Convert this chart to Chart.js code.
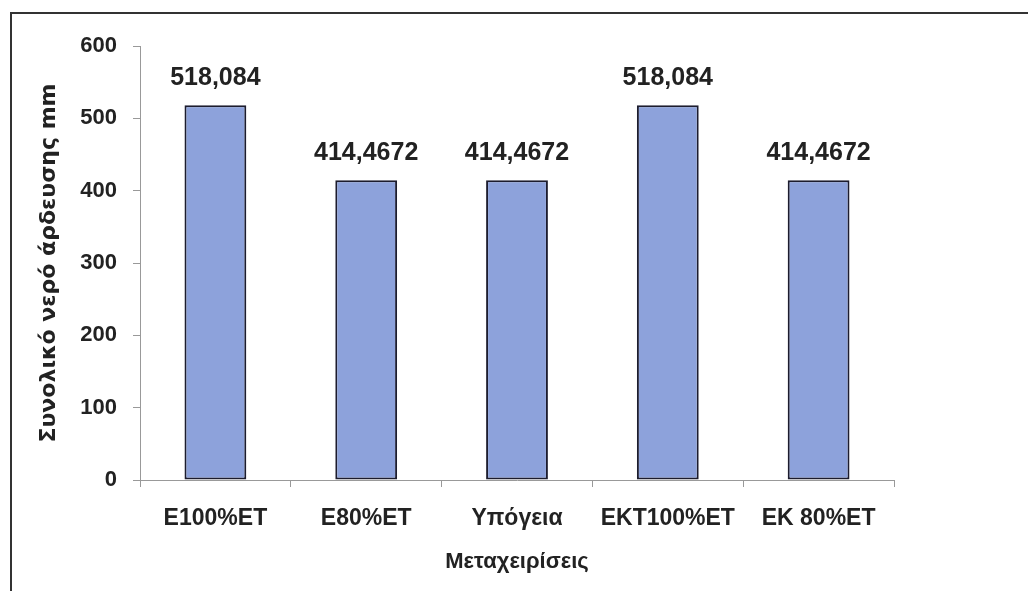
<!DOCTYPE html>
<html>
<head>
<meta charset="utf-8">
<script src="https://cdn.jsdelivr.net/npm/chart.js@4/dist/chart.umd.min.js"></script>
<style>
  body { margin: 0; background: #fff; }
  #wrap { position: relative; width: 1028px; height: 591px; }
  #frame {
    position: absolute; left: 10px; top: 12px; right: -4px; bottom: -4px;
    border-top: 2px solid #333; border-left: 2px solid #333;
    pointer-events: none;
  }
</style>
</head>
<body>
<div id="wrap">
  <canvas id="myChart" width="1028" height="591"></canvas>
  <div id="frame"></div>
</div>
<script>
const categories = ["E100%ET", "E80%ET", "Υπόγεια", "EKT100%ET", "EK 80%ET"];
const waterValues = [518.084, 414.4672, 414.4672, 518.084, 414.4672];
const yTicks = [0, 100, 200, 300, 400, 500, 600];

const font = "'Liberation Sans', Arial, sans-serif";

// write the value above every bar, with a comma as decimal mark
const valueLabels = {
  id: "valueLabels",
  afterDatasetsDraw(chart) {
    const ctx = chart.ctx;
    const meta = chart.getDatasetMeta(0);
    ctx.save();
    ctx.font = "bold 25px " + font;
    ctx.fillStyle = "#222";
    ctx.textAlign = "center";
    ctx.textBaseline = "middle";
    meta.data.forEach((bar, i) => {
      const txt = String(waterValues[i]).replace(".", ",");
      ctx.fillText(txt, bar.x, bar.y - 27);
    });
    ctx.restore();
  },
};

const ctx = document.getElementById("myChart");

new Chart(ctx, {
  type: "bar",
  data: {
    labels: categories,
    datasets: [
      {
        label: "",
        data: waterValues,
        backgroundColor: "#8DA2DB",
        borderColor: "#1c1c2e",
        borderWidth: 2,
        borderSkipped: false,
        categoryPercentage: 1,
        barPercentage: 0.41,
      },
    ],
  },
  options: {
    responsive: false,
    animation: false,
    layout: {
      padding: { left: 12, top: 46, right: 134, bottom: 0 },
    },
    scales: {
      x: {
        grid: {
          drawOnChartArea: false,
          tickLength: 7,
          color: "#999",
        },
        border: { color: "#999" },
        ticks: {
          padding: 18,
          color: "#222",
          font: { family: font, size: 23, weight: "bold" },
        },
        title: {
          display: true,
          text: "Μεταχειρίσεις",
          color: "#222",
          padding: { top: 0, bottom: 16 },
          font: { family: font, size: 22, weight: "bold" },
        },
        afterFit(scale) {
          scale.height = 111;
        },
      },
      y: {
        min: 0,
        max: 600,
        afterBuildTicks(scale) {
          scale.ticks = yTicks.map((v) => ({ value: v }));
        },
        grid: {
          drawOnChartArea: false,
          tickLength: 7,
          color: "#999",
        },
        border: { color: "#999" },
        ticks: {
          padding: 16,
          color: "#222",
          font: { family: font, size: 22, weight: "bold" },
        },
        title: {
          display: true,
          text: "Συνολικό νερό άρδευσης mm",
          color: "#222",
          padding: { top: 24, bottom: 0 },
          font: { family: "'DejaVu Sans', sans-serif", size: 22, weight: "bold" },
        },
        afterFit(scale) {
          scale.width = 128;
        },
      },
    },
    plugins: {
      legend: { display: false },
      tooltip: { enabled: false },
    },
  },
  plugins: [valueLabels],
});
</script>
</body>
</html>
